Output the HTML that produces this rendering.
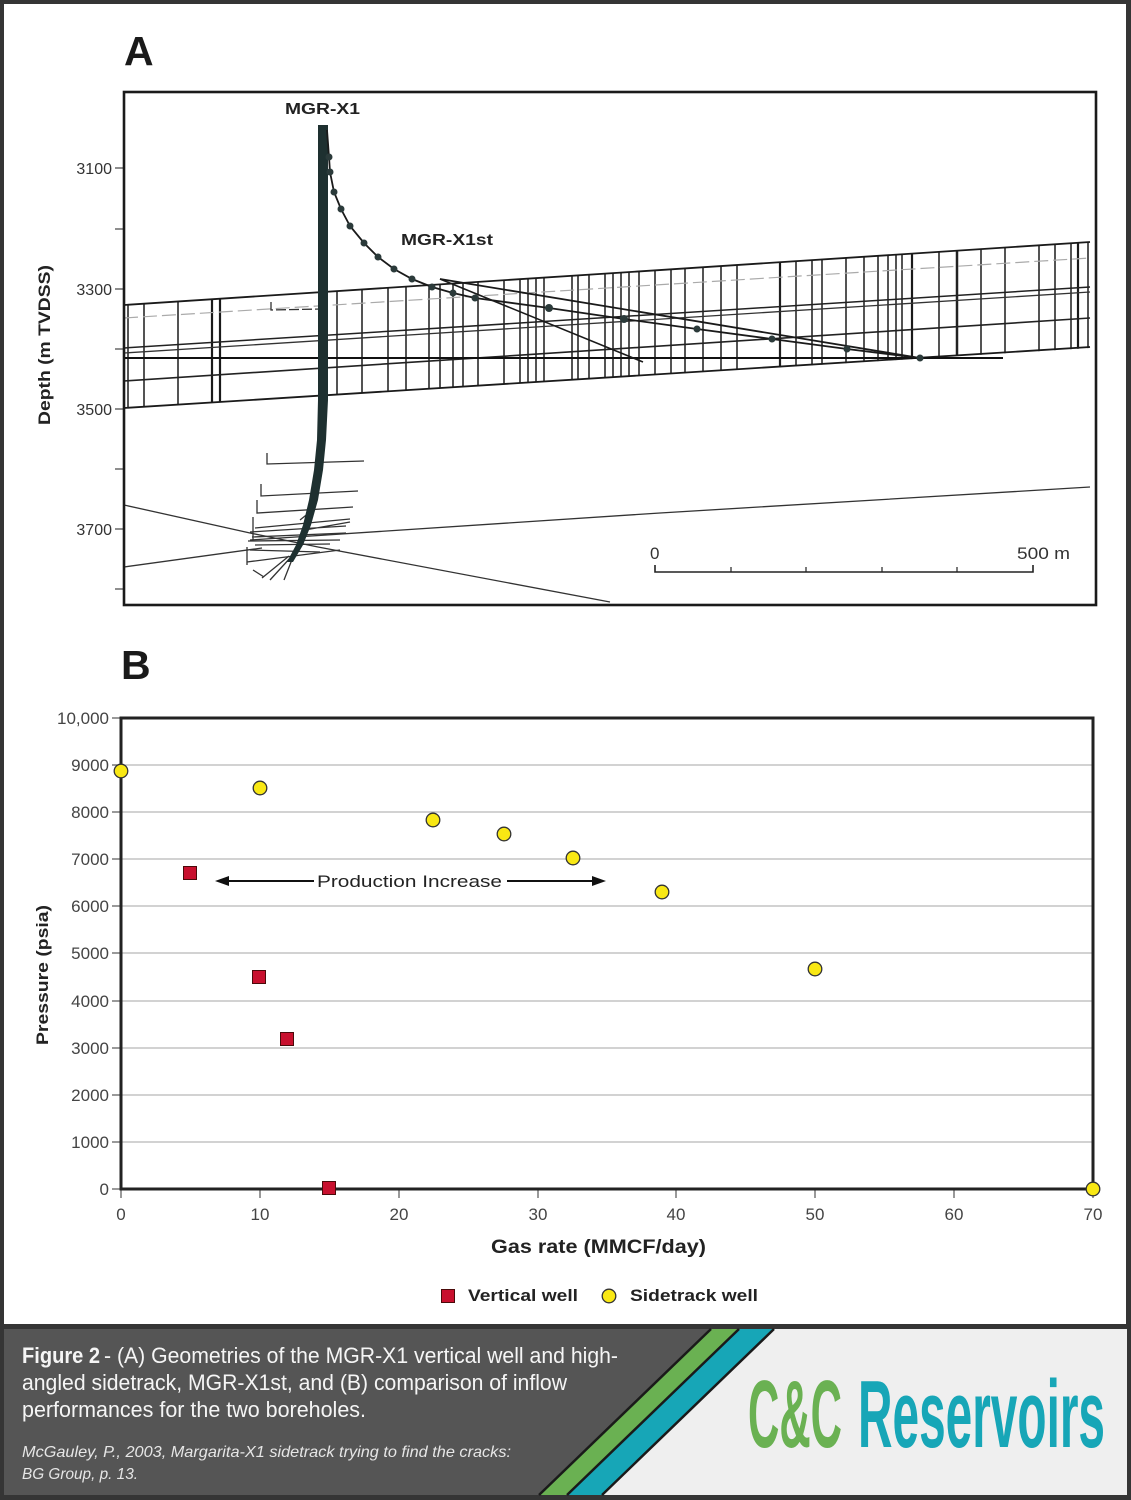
<!DOCTYPE html>
<html><head><meta charset="utf-8"><style>
html,body{margin:0;padding:0;background:#333;}
svg{display:block;}
</style></head><body>
<svg width="1131" height="1500" viewBox="0 0 1131 1500" xmlns="http://www.w3.org/2000/svg" font-family="'Liberation Sans', sans-serif">
<defs>
<clipPath id="mesh"><polygon points="124,305 1090,242 1090,348 124,408"/></clipPath>
</defs>
<rect x="0" y="0" width="1131" height="1500" fill="#353535"/>
<rect x="4" y="4" width="1122" height="1320" fill="#ffffff"/>

<!-- ============ PANEL A ============ -->
<text x="124" y="65" font-size="41" font-weight="bold" fill="#1a1a1a">A</text>
<g font-size="16" fill="#333" text-anchor="end">
<text x="112" y="174">3100</text>
<text x="112" y="295">3300</text>
<text x="112" y="415">3500</text>
<text x="112" y="535">3700</text>
</g>
<g stroke="#444" stroke-width="1.2">
<line x1="115" y1="168" x2="124" y2="168"/><line x1="115" y1="229" x2="124" y2="229"/>
<line x1="115" y1="289" x2="124" y2="289"/><line x1="115" y1="349" x2="124" y2="349"/>
<line x1="115" y1="409" x2="124" y2="409"/><line x1="115" y1="469" x2="124" y2="469"/>
<line x1="115" y1="529" x2="124" y2="529"/><line x1="115" y1="589" x2="124" y2="589"/>
</g>
<text transform="translate(50,345) rotate(-90)" text-anchor="middle" font-size="17" font-weight="bold" fill="#222" textLength="160" lengthAdjust="spacingAndGlyphs">Depth (m TVDSS)</text>

<!-- mesh -->
<g clip-path="url(#mesh)" stroke="#1a1a1a" stroke-width="1.5" fill="none">
<path d="M128 230V420M144 230V420M178 230V420M337 230V420M362 230V420M388 230V420M406 230V420M429 230V420M440 230V420M453 230V420M463 230V420M478 230V420M504 230V420M520 230V420M528 230V420M536 230V420M544 230V420M572 230V420M578 230V420M589 230V420M605 230V420M613 230V420M621 230V420M629 230V420M639 230V420M655 230V420M671 230V420M685 230V420M703 230V420M721 230V420M737 230V420M796 230V420M812 230V420M822 230V420M846 230V420M864 230V420M878 230V420M888 230V420M896 230V420M902 230V420M939 230V420M981 230V420M1005 230V420M1039 230V420M1055 230V420M1071 230V420M1088 230V420"/>
<path stroke-width="2.2" d="M212 230V420M220 230V420M780 230V420M912 230V420M1078 230V420"/>
</g>
<line x1="957" y1="250" x2="957" y2="356" stroke="#222" stroke-width="2.5"/>
<line x1="780" y1="280" x2="780" y2="366" stroke="#222" stroke-width="1.8"/>
<g fill="none">
<line x1="124" y1="305" x2="1090" y2="242" stroke="#1a1a1a" stroke-width="1.8"/>
<line x1="124" y1="318" x2="1090" y2="258" stroke="#aaa" stroke-width="1.2" stroke-dasharray="14 5"/>
<path d="M271 302V310L322 309" stroke="#333" stroke-width="1.3" stroke-dasharray="10 3"/>
<line x1="124" y1="348" x2="1090" y2="287" stroke="#222" stroke-width="1.5"/>
<line x1="124" y1="353" x2="1090" y2="292" stroke="#333" stroke-width="1.3"/>
<line x1="124" y1="381" x2="1090" y2="318" stroke="#222" stroke-width="1.6"/>
<line x1="124" y1="408" x2="1090" y2="347" stroke="#1a1a1a" stroke-width="1.8"/>
<line x1="124" y1="358" x2="1003" y2="358" stroke="#111" stroke-width="2"/>
</g>

<!-- lower lines -->
<g fill="none" stroke="#333" stroke-width="1.3">
<polyline points="124,505 250,533 318,547 610,602"/>
<polyline points="124,567 262,548"/>
<polyline points="250,540 660,513 1090,487"/>
<path d="M267 453V464L364 461"/>
<path d="M261 484V496L358 491"/>
<path d="M257 500V513L353 507"/>
<path d="M253 517V540M255 528L350 519M250 532L346 526M252 537L346 533M248 541L340 540M255 545L330 544M247 547V565M247 562L340 550M250 550L320 552M300 520L310 512M305 530L350 522"/>
<path d="M289 556L262 578M291 557L270 580M293 557L284 580M253 570L264 577"/>
</g>

<!-- MGR-X1 well -->
<polygon points="318,125 328,125 328,400 326,440 323,470 318,500 311,525 303,545 293,562 287,562 296,545 303,525 309,500 314,470 317,440 318,400" fill="#1e3030"/>
<text x="285" y="114" font-size="16" font-weight="bold" fill="#222" textLength="75" lengthAdjust="spacingAndGlyphs">MGR-X1</text>

<!-- sidetrack -->
<g fill="none" stroke="#1a1a1a">
<polyline stroke-width="1.8" points="327,130 329,157 330,172 334,192 341,209 350,226 364,243 378,257 394,269 412,279 432,287 453,293 475,298 549,308 624,319 697,329 772,339 847,349 920,358"/>
<line x1="440" y1="279" x2="920" y2="358" stroke-width="1.8"/>
<line x1="440" y1="279" x2="643" y2="362" stroke-width="1.6"/>
</g>
<g fill="#2b3a3a">
<circle cx="329" cy="157" r="3.5"/><circle cx="330" cy="172" r="3.5"/><circle cx="334" cy="192" r="3.5"/>
<circle cx="341" cy="209" r="3.5"/><circle cx="350" cy="226" r="3.5"/><circle cx="364" cy="243" r="3.5"/>
<circle cx="378" cy="257" r="3.5"/><circle cx="394" cy="269" r="3.5"/><circle cx="412" cy="279" r="3.5"/>
<circle cx="432" cy="287" r="3.5"/><circle cx="453" cy="293" r="3.5"/><circle cx="475" cy="298" r="3.5"/>
<circle cx="549" cy="308" r="4"/><circle cx="624" cy="319" r="4"/><circle cx="697" cy="329" r="3.5"/>
<circle cx="772" cy="339" r="3.5"/><circle cx="847" cy="349" r="3.5"/><circle cx="920" cy="358" r="3.5"/>
</g>
<text x="401" y="245" font-size="16" font-weight="bold" fill="#222" textLength="92" lengthAdjust="spacingAndGlyphs">MGR-X1st</text>

<!-- scale bar -->
<text x="650" y="559" font-size="17" fill="#333">0</text>
<text x="1017" y="559" font-size="17" fill="#333" textLength="53" lengthAdjust="spacingAndGlyphs">500 m</text>
<g stroke="#222" stroke-width="1.6" fill="none">
<path d="M655 565V572H1033V565"/>
<path stroke-width="1.2" d="M731 567V572M806 567V572M882 567V572M957 567V572"/>
</g>

<rect x="124" y="92" width="972" height="513" fill="none" stroke="#1a1a1a" stroke-width="2.6"/>

<!-- ============ PANEL B ============ -->
<text x="121" y="679" font-size="41" font-weight="bold" fill="#1a1a1a">B</text>
<g stroke="#a5a5a5" stroke-width="1">
<line x1="121" y1="765" x2="1093" y2="765"/><line x1="121" y1="812" x2="1093" y2="812"/>
<line x1="121" y1="859" x2="1093" y2="859"/><line x1="121" y1="906" x2="1093" y2="906"/>
<line x1="121" y1="953" x2="1093" y2="953"/><line x1="121" y1="1001" x2="1093" y2="1001"/>
<line x1="121" y1="1048" x2="1093" y2="1048"/><line x1="121" y1="1095" x2="1093" y2="1095"/>
<line x1="121" y1="1142" x2="1093" y2="1142"/>
</g>
<g stroke="#555" stroke-width="1.2">
<line x1="112" y1="718" x2="121" y2="718"/><line x1="112" y1="765" x2="121" y2="765"/>
<line x1="112" y1="812" x2="121" y2="812"/><line x1="112" y1="859" x2="121" y2="859"/>
<line x1="112" y1="906" x2="121" y2="906"/><line x1="112" y1="953" x2="121" y2="953"/>
<line x1="112" y1="1001" x2="121" y2="1001"/><line x1="112" y1="1048" x2="121" y2="1048"/>
<line x1="112" y1="1095" x2="121" y2="1095"/><line x1="112" y1="1142" x2="121" y2="1142"/>
<line x1="112" y1="1189" x2="121" y2="1189"/>
<line x1="121" y1="1189" x2="121" y2="1198"/><line x1="260" y1="1189" x2="260" y2="1198"/>
<line x1="399" y1="1189" x2="399" y2="1198"/><line x1="538" y1="1189" x2="538" y2="1198"/>
<line x1="676" y1="1189" x2="676" y2="1198"/><line x1="815" y1="1189" x2="815" y2="1198"/>
<line x1="954" y1="1189" x2="954" y2="1198"/><line x1="1093" y1="1189" x2="1093" y2="1198"/>
</g>
<g font-size="17" fill="#444" text-anchor="end">
<text x="109" y="724">10,000</text><text x="109" y="771">9000</text><text x="109" y="818">8000</text>
<text x="109" y="865">7000</text><text x="109" y="912">6000</text><text x="109" y="959">5000</text>
<text x="109" y="1007">4000</text><text x="109" y="1054">3000</text><text x="109" y="1101">2000</text>
<text x="109" y="1148">1000</text><text x="109" y="1195">0</text>
</g>
<g font-size="17" fill="#444" text-anchor="middle">
<text x="121" y="1220">0</text><text x="260" y="1220">10</text><text x="399" y="1220">20</text>
<text x="538" y="1220">30</text><text x="676" y="1220">40</text><text x="815" y="1220">50</text>
<text x="954" y="1220">60</text><text x="1093" y="1220">70</text>
</g>
<rect x="121" y="718" width="972" height="471" fill="none" stroke="#222" stroke-width="3"/>
<text x="491" y="1253" font-size="19" font-weight="bold" fill="#222" textLength="215" lengthAdjust="spacingAndGlyphs">Gas rate (MMCF/day)</text>
<text transform="translate(48,975) rotate(-90)" text-anchor="middle" font-size="17" font-weight="bold" fill="#222" textLength="140" lengthAdjust="spacingAndGlyphs">Pressure (psia)</text>

<!-- arrow -->
<g stroke="#111" stroke-width="2" fill="#111">
<line x1="226" y1="881" x2="314" y2="881"/>
<polygon points="215,881 229,876 229,886" stroke="none"/>
<line x1="507" y1="881" x2="595" y2="881"/>
<polygon points="606,881 592,876 592,886" stroke="none"/>
</g>
<text x="317" y="887" font-size="17" fill="#222" textLength="185" lengthAdjust="spacingAndGlyphs">Production Increase</text>

<!-- points -->
<g fill="#c8102e" stroke="#4a0a0a" stroke-width="1">
<rect x="183.5" y="866.5" width="13" height="13"/>
<rect x="252.5" y="970.5" width="13" height="13"/>
<rect x="280.5" y="1032.5" width="13" height="13"/>
<rect x="322.5" y="1181.5" width="13" height="13"/>
</g>
<g fill="#f9e814" stroke="#333" stroke-width="1.3">
<circle cx="121" cy="771" r="6.8"/><circle cx="260" cy="788" r="6.8"/>
<circle cx="433" cy="820" r="6.8"/><circle cx="504" cy="834" r="6.8"/>
<circle cx="573" cy="858" r="6.8"/><circle cx="662" cy="892" r="6.8"/>
<circle cx="815" cy="969" r="6.8"/><circle cx="1093" cy="1189" r="6.8"/>
</g>

<!-- legend -->
<rect x="441.5" y="1289.5" width="13" height="13" fill="#c8102e" stroke="#4a0a0a" stroke-width="1"/>
<text x="468" y="1301" font-size="17" font-weight="bold" fill="#222" textLength="110" lengthAdjust="spacingAndGlyphs">Vertical well</text>
<circle cx="609" cy="1296" r="6.8" fill="#f9e814" stroke="#333" stroke-width="1.3"/>
<text x="630" y="1301" font-size="17" font-weight="bold" fill="#222" textLength="128" lengthAdjust="spacingAndGlyphs">Sidetrack well</text>

<!-- ============ FOOTER ============ -->
<rect x="4" y="1329" width="1123" height="166" fill="#555555"/>
<polygon points="774,1329 1127,1329 1127,1495 602,1495" fill="#efefef"/>
<polygon points="740,1329 774,1329 602,1495 568,1495" fill="#17a6b7"/>
<polygon points="711,1329 740,1329 568,1495 539,1495" fill="#6ab152"/>
<g stroke="#1a1a1a" stroke-width="2.5">
<line x1="711" y1="1329" x2="539" y2="1495"/>
<line x1="739" y1="1329" x2="567" y2="1495"/>
<line x1="774" y1="1329" x2="602" y2="1495"/>
</g>

<g font-family="'Liberation Sans Narrow','Liberation Sans',sans-serif" fill="#f5f5f5" font-size="22">
<text x="22" y="1363" font-weight="bold" textLength="78" lengthAdjust="spacingAndGlyphs">Figure 2</text>
<text x="104" y="1363" textLength="514" lengthAdjust="spacingAndGlyphs">- (A) Geometries of the MGR-X1 vertical well and high-</text>
<text x="22" y="1390" textLength="545" lengthAdjust="spacingAndGlyphs">angled sidetrack, MGR-X1st, and (B) comparison of inflow</text>
<text x="22" y="1417" textLength="344" lengthAdjust="spacingAndGlyphs">performances for the two boreholes.</text>
<text x="22" y="1457" font-size="16" font-style="italic" fill="#e6e6e6" textLength="489" lengthAdjust="spacingAndGlyphs">McGauley, P., 2003, Margarita-X1 sidetrack trying to find the cracks:</text>
<text x="22" y="1479" font-size="16" font-style="italic" fill="#e6e6e6" textLength="116" lengthAdjust="spacingAndGlyphs">BG Group, p. 13.</text>
</g>
<g font-family="'Liberation Sans Narrow','Liberation Sans',sans-serif" font-weight="bold" font-size="96">
<text x="748" y="1447" fill="#6ab152" textLength="94" lengthAdjust="spacingAndGlyphs">C&amp;C</text>
<text x="858" y="1447" fill="#17a6b7" textLength="247" lengthAdjust="spacingAndGlyphs">Reservoirs</text>
</g>
</svg>
</body></html>
